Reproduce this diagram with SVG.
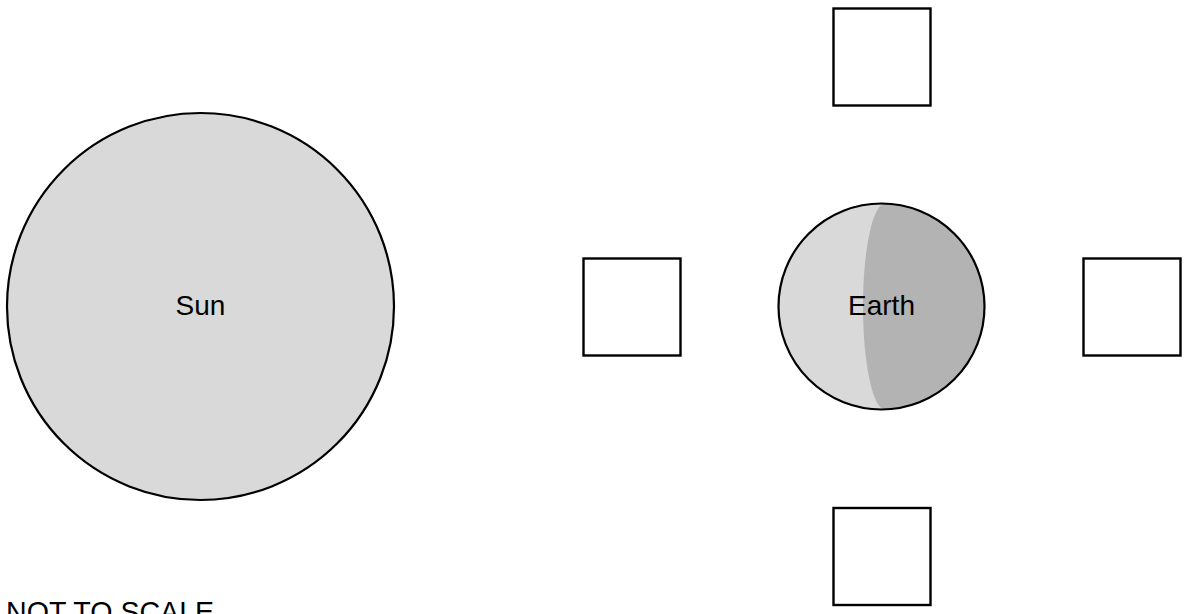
<svg xmlns="http://www.w3.org/2000/svg" width="1184" height="614" viewBox="0 0 1184 614">
<style>
.ol{stroke:#000;stroke-width:2.2}
.box{fill:#fff;stroke:#000;stroke-width:2.4}
.lbl{font-family:"Liberation Sans",Arial,sans-serif;font-size:28px;fill:#000}
</style>
<defs>
<clipPath id="earthClip"><circle cx="881.5" cy="306.5" r="103"/></clipPath>
</defs>
<rect width="1184" height="614" fill="#fff"/>
<g id="sun">
<circle class="ol" cx="200.5" cy="306.5" r="193.5" fill="#d9d9d9"/>
<text class="lbl" x="200.5" y="315" text-anchor="middle">Sun</text>
</g>
<g id="earth">
<circle cx="881.5" cy="306.5" r="103" fill="#d9d9d9"/>
<path clip-path="url(#earthClip)" d="M885 203.5 A22 103 0 0 0 885 409.5 L1000 409.5 L1000 203.5 Z" fill="#b3b3b3"/>
<circle class="ol" cx="881.5" cy="306.5" r="103" fill="none"/>
<text class="lbl" x="881.5" y="315" text-anchor="middle">Earth</text>
</g>
<g id="box-top"><rect class="box" x="833.5" y="8.5" width="97" height="97"/></g>
<g id="box-left"><rect class="box" x="583.5" y="258.5" width="97" height="97"/></g>
<g id="box-right"><rect class="box" x="1083.5" y="258.5" width="97" height="97"/></g>
<g id="box-bottom"><rect class="box" x="833.5" y="508" width="97" height="97"/></g>
<g id="connectors"></g>
<text class="lbl" x="6" y="622" style="font-size:28.6px">NOT TO SCALE</text>
</svg>
